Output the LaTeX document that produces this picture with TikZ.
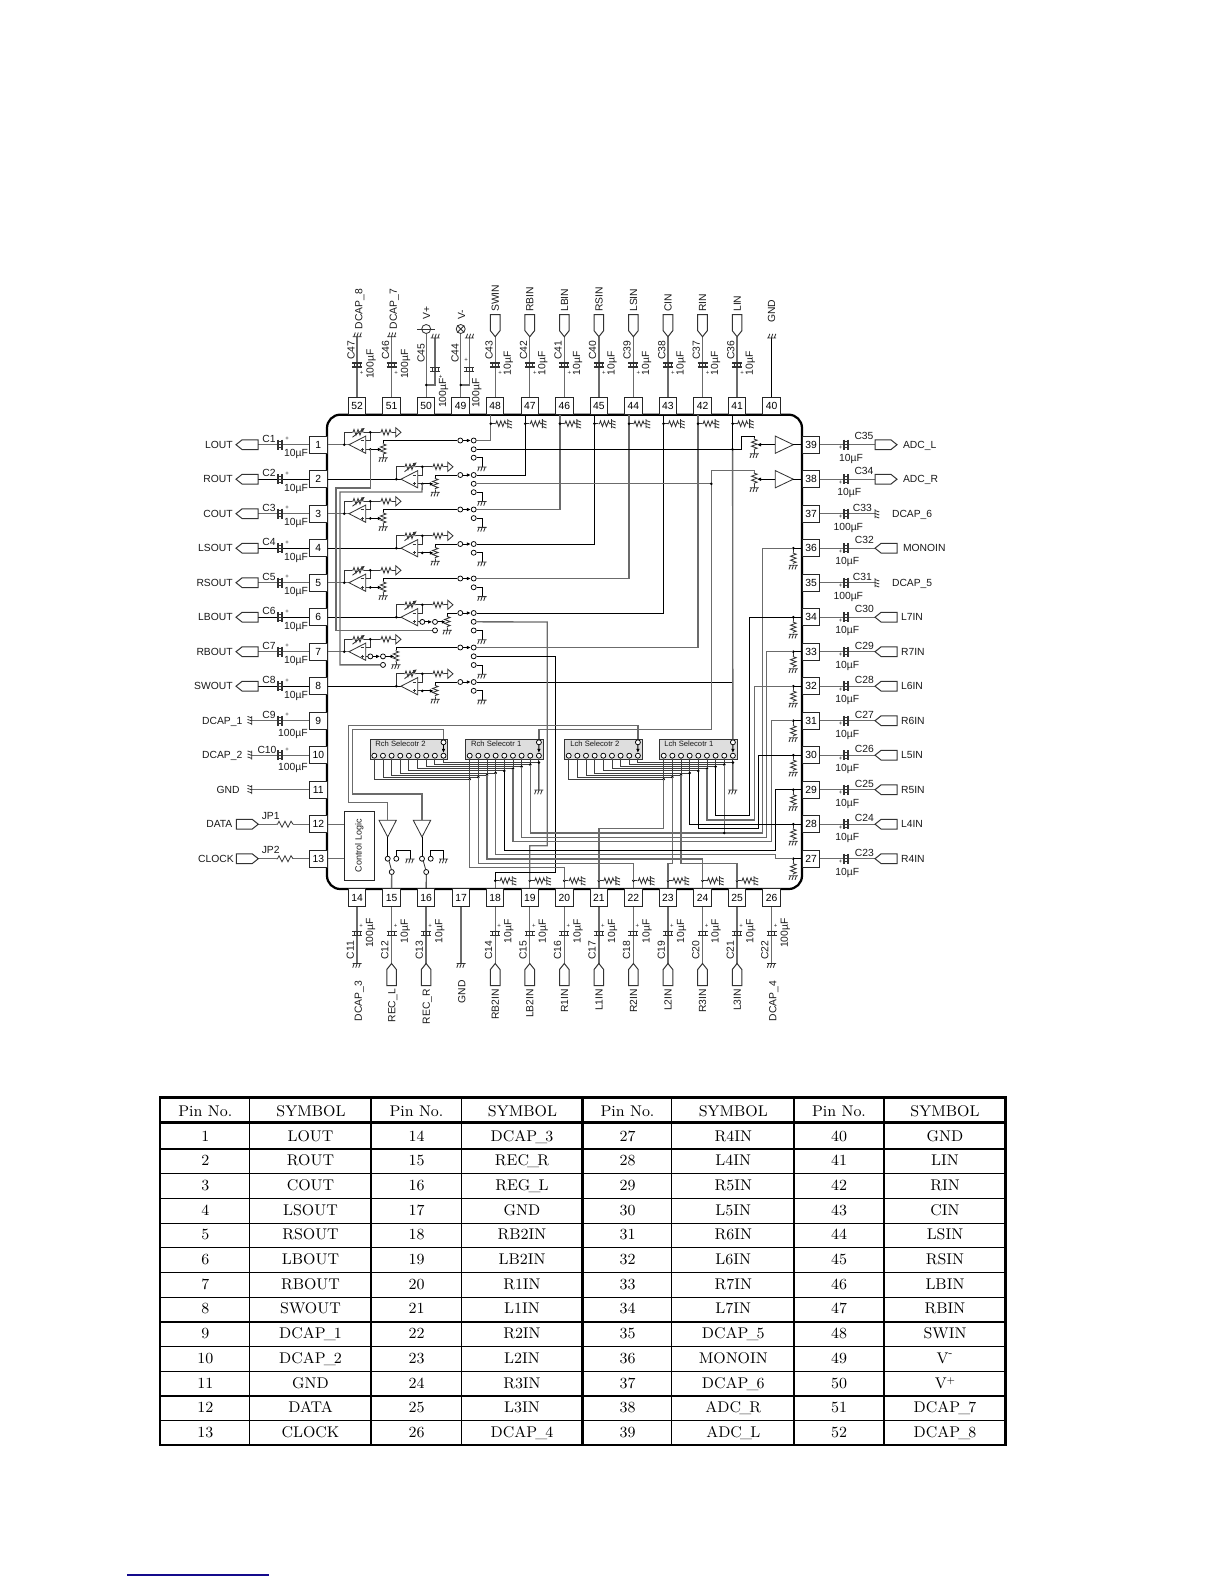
\documentclass[tikz,border=0pt]{standalone}
\usepackage{fontspec}
\newfontfamily\dgf{Liberation Sans}
\usetikzlibrary{arrows.meta}
\newcommand\us{\kern-1.1pt\_\kern-1.1pt}
\tikzset{
 wire/.style={draw=black,line width=0.5pt},
 wireg/.style={draw=black!58,line width=0.8pt},
 bus/.style={draw=black!75,line width=0.5pt},
 sym/.style={draw=black!80,line width=0.5pt},
 tip/.style={-{Latex[length=2.4pt,width=2.2pt]}},
 term/.style={circle,draw=black,line width=0.45pt,fill=white,inner sep=0pt,minimum size=3pt},
 lab/.style={font=\dgf\fontsize{6.2pt}{7pt}\selectfont,inner sep=0pt,anchor=base,text=black!90},
 pinbox/.style={draw=black!85,line width=0.55pt,fill=white,inner sep=0pt,minimum width=10.5pt,minimum height=10.4pt,font=\dgf\fontsize{6.2pt}{7pt}\selectfont},
 selbox/.style={draw=black!80,line width=0.4pt,fill=black!13,inner sep=0pt,minimum width=46.6pt,minimum height=12.4pt},
 sellab/.style={font=\dgf\fontsize{4.6pt}{5pt}\selectfont,inner sep=0pt,anchor=base west,text=black!90},
 tcell/.style={font=\fontsize{9.3pt}{11pt}\selectfont,inner sep=0pt,anchor=base},
}
\newcommand\zigz[2]{\draw[sym,shift={#1},rotate=#2] (0,0)--(1,0)--(2,-2.8)--(4,2.8)--(6,-2.8)--(8,2.8)--(10,-2.8)--(11,0)--(12,0);}
\newcommand\gnd[2]{\draw[sym,shift={#1},rotate=#2] (-4.5,0)--(4.5,0) (-2.8,0)--(-4.3,4.2) (0.2,0)--(-1.3,4.2) (3.2,0)--(1.7,4.2);}
\newcommand\capsym[2]{\draw[sym,line width=0.75pt,shift={#1},rotate=#2] (-2.1,-5)--(-2.1,5) (2.1,-5)--(2.1,5);\draw[sym,line width=0.35pt,shift={#1},rotate=#2] (-2.1,-3)--(2.1,-3) (-2.1,0)--(2.1,0) (-2.1,3)--(2.1,3);}
\newcommand\conn[2]{\draw[sym,line width=0.6pt,shift={#1},rotate=#2] (0,0)--(6,-4.8)--(22,-4.8)--(22,4.8)--(6,4.8)--cycle;}
\newcommand\jdot[1]{\fill[black] #1 circle (0.85pt);}
\begin{document}
\begin{tikzpicture}[x=0.6pt,y=-0.6pt]
\useasboundingbox (0,0) rectangle (1224,1584);
% levels
\coordinate (y815) at (0,815.7);\coordinate (y820) at (0,820);\coordinate (y829) at (0,828.7);
\coordinate (y833) at (0,833);\coordinate (y837) at (0,837.3);\coordinate (y842) at (0,841.7);
\coordinate (y850) at (0,850.3);\coordinate (y854) at (0,854.3);\coordinate (y859) at (0,859);
\coordinate (y863) at (0,863.3);\coordinate (y868) at (0,867.7);
\coordinate (x749) at (749.3,0);\coordinate (x754) at (754.3,0);\coordinate (x758) at (758.3,0);
\coordinate (x762) at (762.7,0);\coordinate (x766) at (766.7,0);\coordinate (x771) at (771.3,0);
\coordinate (x775) at (775.5,0);
% chip
\node[draw=black,line width=1.35pt,rounded corners=8pt,minimum width=285pt,minimum height=284.6pt,inner sep=0pt] (chip) at (564.5,651.85) {};
% left pins
\foreach \k/\lab/\cn/\wst in {1/LOUT/C1/wireg,2/ROUT/C2/wire,3/COUT/C3/wireg,4/LSOUT/C4/wire,5/RSOUT/C5/wireg,6/LBOUT/C6/wire,7/RBOUT/C7/wireg,8/SWOUT/C8/wire}{
 \pgfmathsetmacro\py{444.7+34.5*(\k-1)}
 \node[pinbox] (p\k) at (318.3,\py) {\k};
 \coordinate (q\k) at (258.3,\py);
 \draw[\wst] (q\k) -- (p\k);
 \conn{(236,\py)}{0}
 \capsym{(280,\py)}{0}
 \node[lab,anchor=base east] (n\k) at (233,\py+3.7) {\lab};
 \node[lab] (cn\k) at (269,\py-2.6) {\cn};
 \node[lab] (cv\k) at (296,\py+12) {10µF};
 \node[lab,font=\dgf\fontsize{3.6pt}{4pt}\selectfont] (cp\k) at (287,\py-3.8) {+};
}
\foreach \k/\lab/\cn/\cx in {9/DCAP\_1/C9/269,10/DCAP\_2/C10/267}{
 \pgfmathsetmacro\py{444.7+34.5*(\k-1)}
 \node[pinbox] (p\k) at (318.3,\py) {\k};
 \coordinate (q\k) at (251.7,\py);
 \draw[wireg] (q\k) -- (p\k);
 \gnd{(q\k)}{-90}
 \capsym{(280,\py)}{0}
 \node[lab,anchor=base east] (n\k) at (242.7,\py+3.7) {\lab};
 \node[lab] (cn\k) at (\cx,\py-2.2) {\cn};
 \node[lab] (cv\k) at (293,\py+15.7) {100µF};
 \node[lab,font=\dgf\fontsize{3.6pt}{4pt}\selectfont] (cp\k) at (287,\py-3.8) {+};
}
\node[pinbox] (p11) at (318.3,789.7) {11};
\coordinate (q11) at (251.7,789.7);
\draw[wireg] (q11) -- (p11);\gnd{(q11)}{-90}
\node[lab,anchor=base east] (n11) at (240,793.4) {GND};
\foreach \k/\lab/\rn/\tx/\wy in {12/DATA/JP1/232.7/824.2,13/CLOCK/JP2/234/858.7}{
 \node[pinbox] (p\k) at (318.3,\wy) {\k};
 \coordinate (q\k) at (258.3,\wy);\coordinate (rs\k) at (276,\wy);\coordinate (re\k) at (293,\wy);
 \draw[wireg] (q\k) -- (rs\k) (re\k) -- (p\k);
 \draw[sym,shift={(rs\k)}] (0,0)--(1.5,0)--(3,-3)--(6,3)--(9,-3)--(12,3)--(15,-3)--(17,0);
 \conn{(258.3,\wy)}{180}
 \node[lab,anchor=base east] (n\k) at (\tx,\wy+3.7) {\lab};
 \node[lab] (cn\k) at (270.7,\wy-5) {\rn};
}
% right pins
\foreach \k in {27,...,39}{
 \pgfmathsetmacro\py{444.7+34.5*(39-\k)}
 \node[pinbox] (p\k) at (811,\py) {\k};
 \coordinate (q\k) at (875,\py);
 \draw[wireg] (q\k) -- (p\k);
 \capsym{(846,\py)}{0}
 \node[lab,font=\dgf\fontsize{3.6pt}{4pt}\selectfont] (cp\k) at (840.7,\py+4.8) {+};
}
\foreach \k/\lab/\cn/\cy/\vx/\lx in {39/ADC\_L/C35/-8.5/851/902.7,38/ADC\_R/C34/-8/849.3/902.7}{
 \pgfmathsetmacro\py{444.7+34.5*(39-\k)}
 \conn{(897,\py)}{180}
 \node[lab,anchor=base west] (n\k) at (\lx,\py+3.7) {\lab};
 \node[lab] (cn\k) at (864,\py+\cy+3.7) {\cn};
 \node[lab] (cv\k) at (\vx,\py+16.4) {10µF};
}
\foreach \k/\lab/\cn/\cy/\lx in {36/MONOIN/C32/-8.2/902.7,34/L7IN/C30/-8/900.7,33/R7IN/C29/-6/900.7,32/L6IN/C28/-6.2/900.7,31/R6IN/C27/-6.4/900.7,30/L5IN/C26/-6/900.7,29/R5IN/C25/-6.4/900.7,28/L4IN/C24/-6/900.7,27/R4IN/C23/-6/900.7}{
 \pgfmathsetmacro\py{444.7+34.5*(39-\k)}
 \conn{(875,\py)}{0}
 \node[lab,anchor=base west] (n\k) at (\lx,\py+3.7) {\lab};
 \node[lab] (cn\k) at (864.3,\py+\cy+3.7) {\cn};
 \node[lab] (cv\k) at (847.3,\py+16.4) {10µF};
 \coordinate (rd\k) at (793.3,\py);
 \draw[sym] (rd\k) -- (793.3,\py+4); \zigz{(793.3,\py+4)}{-90}
 \gnd{(793.3,\py+17)}{0}
 \draw[wire] (rd\k) -- (p\k);
 \jdot{(rd\k)}
}
\foreach \k/\lab/\cn in {37/DCAP\_6/C33,35/DCAP\_5/C31}{
 \pgfmathsetmacro\py{444.7+34.5*(39-\k)}
 \gnd{(q\k)}{90}
 \node[lab,anchor=base west] (n\k) at (891.7,\py+3.7) {\lab};
 \node[lab] (cn\k) at (862.3,\py-2.3) {\cn};
 \node[lab] (cv\k) at (848.3,\py+16.4) {100µF};
}
% inner right amps
\foreach \k/\ty in {39/436.7,38/470.7}{
 \pgfmathsetmacro\py{444.7+34.5*(39-\k)}
 \coordinate (ao\k) at (793.3,\py);\coordinate (ai\k) at (775.3,\py);\coordinate (pa\k) at (754.3,\ty+1.5);
 \draw[sym,fill=white] (775.3,\py-8.6) -- (ao\k) -- (775.3,\py+8.6) -- cycle;
 \draw[wire] (ao\k) -- (p\k);
 \draw[wire,tip] (ai\k) -- (757,\py);
 \zigz{(pa\k)}{-90}
 \draw[sym] (754.3,\ty+13.5) -- (754.3,\ty+17);
 \gnd{(754.3,\ty+17)}{0}
}
% top pins
\foreach \k/\lab/\wst in {48/SWIN/wireg,47/RBIN/wire,46/LBIN/wireg,45/RSIN/wire,44/LSIN/wireg,43/CIN/wire,42/RIN/wireg,41/LIN/wire}{
 \pgfmathsetmacro\px{357+34.55*(52-\k)}
 \pgfmathtruncatemacro\cnum{\k-5}
 \node[pinbox] (p\k) at (\px,405.8) {\k};
 \coordinate (q\k) at (\px,336.7);
 \draw[wireg] (q\k) -- (p\k);
 \conn{(q\k)}{90}
 \capsym{(\px,365)}{90}
 \node[lab,rotate=90,anchor=base west] (n\k) at (\px+3.7,312) {\lab};
 \node[lab,rotate=90] (cn\k) at (\px-2.7,350) {C\cnum};
 \node[lab,rotate=90] (cv\k) at (\px+15.7,363.3) {10µF};
 \node[lab,rotate=90,font=\dgf\fontsize{3.6pt}{4pt}\selectfont] (cp\k) at (\px+7,372.7) {+};
}
\foreach \k/\lab/\cn in {52/DCAP\_8/C47,51/DCAP\_7/C46}{
 \pgfmathsetmacro\px{357+34.55*(52-\k)}
 \node[pinbox] (p\k) at (\px,405.8) {\k};
 \coordinate (q\k) at (\px,336.7);
 \draw[wireg] (q\k) -- (p\k);
 \gnd{(q\k)}{180}
 \capsym{(\px,365)}{90}
 \node[lab,rotate=90,anchor=base west] (n\k) at (\px+5.4,329.5) {\lab};
 \node[lab,rotate=90] (cn\k) at (\px-2.4,350) {\cn};
 \node[lab,rotate=90] (cv\k) at (\px+16.5,364) {100µF};
 \node[lab,rotate=90,font=\dgf\fontsize{3.6pt}{4pt}\selectfont] (cp\k) at (\px+6.5,372.7) {+};
}
% V+ V-
\node[pinbox] (p50) at (426.2,405.8) {50};
\node[pinbox] (p49) at (460.7,405.8) {49};
\node[circle,draw=black!80,line width=0.5pt,inner sep=0pt,minimum size=5.4pt] (vp) at (426.2,329) {};
\node[circle,draw=black!80,line width=0.5pt,inner sep=0pt,minimum size=5.4pt] (vm) at (460.7,329) {};
\draw[sym] (417.3,329) -- (435,329);
\draw[sym] (vm.north west) -- (vm.south east) (vm.north east) -- (vm.south west);
\draw[wireg] (vp) -- (p50);\draw[wireg] (vm) -- (p49);
\node[lab,rotate=90,anchor=base west] (n50) at (430,320) {V+};
\node[lab,rotate=90,anchor=base west] (n49) at (465,320) {V-};
\coordinate (j50) at (426.2,385);\coordinate (j49) at (460.7,385);
\coordinate (g50) at (435,338);\coordinate (g49) at (469.3,338);
\draw[wireg] (j50) -| (g50);\draw[wireg] (j49) -| (g49);
\jdot{(j50)}\jdot{(j49)}
\gnd{(g50)}{180}\gnd{(g49)}{180}
\capsym{(435,369.3)}{90}\capsym{(469.3,369.3)}{90}
\node[lab,rotate=90] (cn50) at (424.5,353) {C45};
\node[lab,rotate=90] (cn49) at (458.5,353) {C44};
\node[lab,rotate=90] (cv50) at (446,393) {100µF};
\node[lab,rotate=90] (cv49) at (479.4,393) {100µF};
\node[lab,rotate=90,font=\dgf\fontsize{3.6pt}{4pt}\selectfont] (cp50) at (442.5,376.7) {+};
\node[lab,rotate=90,font=\dgf\fontsize{3.6pt}{4pt}\selectfont] (cp49) at (468,360) {+};
% pin 40
\node[pinbox] (p40) at (771.5,405.8) {40};
\coordinate (q40) at (771.5,338);
\draw[wire] (q40) -- (p40);\gnd{(q40)}{180}
\node[lab,rotate=90,anchor=base west] (n40) at (775.2,323) {GND};
% bottom pins
\foreach \k/\lab/\cn/\vv in {15/REC\_L/C12/10,16/REC\_R/C13/10,18/RB2IN/C14/10,19/LB2IN/C15/10,20/R1IN/C16/10,21/L1IN/C17/10,22/R2IN/C18/10,23/L2IN/C19/10,24/R3IN/C20/10,25/L3IN/C21/10}{
 \pgfmathsetmacro\px{357+34.55*(\k-14)}
 \node[pinbox] (p\k) at (\px,897.6) {\k};
 \coordinate (q\k) at (\px,963.5);
 \draw[wireg] (q\k) -- (p\k);
 \conn{(q\k)}{-90}
 \capsym{(\px,933.3)}{90}
 \node[lab,rotate=90,anchor=base east] (n\k) at (\px+3.7,988.8) {\lab};
 \node[lab,rotate=90] (cn\k) at (\px-3.2,950) {\cn};
 \node[lab,rotate=90] (cv\k) at (\px+16.2,931.5) {\vv µF};
 \node[lab,rotate=90,font=\dgf\fontsize{3.6pt}{4pt}\selectfont] (cp\k) at (\px+6,926) {+};
}
\foreach \k/\lab/\cn in {14/DCAP\_3/C11,26/DCAP\_4/C22}{
 \pgfmathsetmacro\px{357+34.55*(\k-14)}
 \node[pinbox] (p\k) at (\px,897.6) {\k};
 \coordinate (q\k) at (\px,963.5);
 \draw[wireg] (q\k) -- (p\k);
 \gnd{(q\k)}{0}
 \capsym{(\px,933.3)}{90}
 \node[lab,rotate=90,anchor=base east] (n\k) at (\px+4.8,980.5) {\lab};
 \node[lab,rotate=90] (cn\k) at (\px-3.2,950) {\cn};
 \node[lab,rotate=90] (cv\k) at (\px+16.2,933) {100µF};
 \node[lab,rotate=90,font=\dgf\fontsize{3.6pt}{4pt}\selectfont] (cp\k) at (\px+6,926) {+};
}
\node[pinbox] (p17) at (461.1,897.6) {17};
\coordinate (q17) at (461.1,963.5);
\draw[wireg] (q17) -- (p17);\gnd{(q17)}{0}
\node[lab,rotate=90,anchor=base east] (n17) at (465.3,980) {GND};
% amps
\foreach \k/\dx/\potx/\wst in {1/0/383.3/wireg,2/52/435.3/wire,3/0/383.3/wireg,4/52/435.3/wire,5/0/383.3/wireg,6/52/447.3/wire,7/0/396/wireg,8/52/435.3/wire}{
 \pgfmathsetmacro\py{444.7+34.5*(\k-1)}
 \pgfmathsetmacro\sy{\py-4.2}
 \node[term] (sa\k) at (460.3,\sy) {};
 \node[term] (s\k) at (473.7,\sy) {};
 \draw[wire,tip] (sa\k) -- (s\k);
 \draw[\wst] (p\k) -- (344.3+\dx,\py) -- (349+\dx,\py);
 \coordinate (pt\k) at (\potx,\py-1.7);
 \draw[wire] (sa\k) -| (pt\k);
 \zigz{(pt\k)}{-90}
 \draw[sym] (\potx,\py+10.3) -- (\potx,\py+13);
 \gnd{(\potx,\py+13)}{0}
 \begin{scope}[shift={(\dx,\py)}]
  \draw[sym,fill=white] (349,0) -- (365.7,-8.6) -- (365.7,8.6) -- cycle;
  \draw[sym] (344.3,0) |- (352,-12.4);
  \zigz{(352,-12.4)}{0}
  \draw[sym,tip] (352.5,-7.5) -- (365,-17);
  \draw[sym] (364,-12.4) -- (380,-12.4);
  \draw[sym] (370.3,-12.4) -- (370.3,-4) -- (365.7,-4);
  \zigz{(380,-12.4)}{0}
  \draw[sym] (392,-12.4) -- (395.7,-12.4);
  \draw[sym] (395.7,-17) -- (401,-12.4) -- (395.7,-7.8) -- cycle;
  \draw[sym] (360.5,-4)--(363.5,-4) (360.5,4.7)--(363.5,4.7) (362,3.2)--(362,6.2);
  \draw[sym] (365.7,4.7) -- (370.3,4.7);
  \jdot{(344.3,0)}
  \jdot{(370.3,-12.4)}
 \end{scope}
}
\foreach \k/\dx/\potx in {1/0/383.3,2/52/435.3,3/0/383.3,4/52/435.3,5/0/383.3,8/52/435.3}{
 \pgfmathsetmacro\py{444.7+34.5*(\k-1)}
 \coordinate (ip\k) at (370.3+\dx,\py+4.7);
 \draw[wire,tip] (ip\k) -- (\potx-1.5,\py+4.7);
 \jdot{(ip\k)}
}
\foreach \k/\dx in {6/52,7/0}{
 \pgfmathsetmacro\py{444.7+34.5*(\k-1)}
 \node[term] (ka\k) at (370.3+\dx,\py+4.7) {};
 \node[term] (kb\k) at (383+\dx,\py+4.7) {};
 \node[term] (kc\k) at (383+\dx,\py+13.2) {};
 \draw[wire,tip] (ka\k) -- (kb\k);
}
\draw[wire,tip] (kb6) -- (445.8,621.9);
\draw[wire,tip] (kb7) -- (394.5,656.4);
\draw[wireg] (ip1) -- (370.3,488) -- (336,488) |- (kc6);
\draw[wireg] (ip2) -- (422,492) -- (340,492) |- (kc7);
% switch ground terminals
\foreach \k/\off in {1/13,2/13,3/4.4,4/4.5,5/4.6,6/13.3,7/13.3,8/4.6}{
 \pgfmathsetmacro\py{444.7+34.5*(\k-1)}
 \node[term] (g\k) at (473.7,\py+\off) {};
 \coordinate (gg\k) at (482,\py+\off+9.3);
 \draw[wire] (g\k) -| (gg\k);
 \gnd{(gg\k)}{0}
}
\foreach \k in {1,2,6,7}{
 \pgfmathsetmacro\py{444.7+34.5*(\k-1)}
 \node[term] (m\k) at (473.7,\py+4.6) {};
}
% selectors
\node[selbox] (rsel2) at (408.8,749.2) {};
\node[selbox] (rsel1) at (504,749.2) {};
\node[selbox] (lsel2) at (603.5,749.2) {};
\node[selbox] (lsel1) at (698.2,749.2) {};
\node[sellab] (rt2) at (375,746) {Rch Selecotr 2};
\node[sellab] (rt1) at (470.7,746) {Rch Selecotr 1};
\node[sellab] (lt2) at (570,746) {Lch Selecotr 2};
\node[sellab] (lt1) at (664,746) {Lch Selecotr 1};
\foreach \n/\bx/\ly in {rA/469.7/1,rB/374.3/1,lA/663.7/1,lB/568.7/1}{
 \foreach \i in {1,...,9}{
  \node[term] (\n\i) at (\bx+8.65*\i-8.65,755.7) {};
 }
}
\node[term] (rC1) at (538.9,742.3) {};
\node[term] (rC2) at (443.5,742.3) {};
\node[term] (lC1) at (732.9,742.3) {};
\node[term] (lC2) at (637.9,742.3) {};
\draw[wire,tip] (rC1) -- (rA9);\draw[wire,tip] (rC2) -- (rB9);
\draw[wire,tip] (lC1) -- (lA9);\draw[wire,tip] (lC2) -- (lB9);
\foreach \i in {1,...,9}{
 \pgfmathsetmacro\ly{779.3-2.1*(\i-1)}
 \pgfmathsetmacro\rxx{469.7+8.65*(\i-1)}
 \pgfmathsetmacro\lxx{663.7+8.65*(\i-1)}
 \coordinate (rD\i) at (\rxx,\ly);
 \coordinate (lD\i) at (\lxx,\ly);
 \draw[bus] (rA\i) -- (rD\i);
 \draw[bus] (lA\i) -- (lD\i);
 \draw[bus] (rB\i) |- (rD\i);
 \draw[bus] (lB\i) |- (lD\i);
 \jdot{(rD\i)}
 \jdot{(lD\i)}
}
\coordinate (rG) at (538.9,790);\coordinate (lG) at (732.9,790);
\draw[wire] (rD9) -- (rG);\draw[wire] (lD9) -- (lG);
\gnd{(rG)}{0}\gnd{(lG)}{0}
% top tap resistors and lines
\foreach \k/\wst in {48/wireg,47/wire,46/wireg,45/wire,44/wireg,43/wire,42/wireg,41/wire}{
 \pgfmathsetmacro\px{357+34.55*(52-\k)}
 \pgfmathtruncatemacro\sn{49-\k}
 \coordinate (te\k) at (\px-4.4,415);
 \coordinate (td\k) at (\px-4.4,423.7);
 \draw[\wst] (te\k) |- (s\sn);
 \draw[sym] (td\k) -- (\px-0.4,423.7);
 \zigz{(\px-0.4,423.7)}{0}
 \draw[sym] (\px+11.6,423.7) -- (\px+12.6,423.7);
 \gnd{(\px+12.6,423.7)}{90}
 \jdot{(td\k)}
}
% second lines
\coordinate (j1) at (732.6,449.3);
\draw[wire] (m1) -- (741,449.3) -- (741,436.7) -- (754.3,436.7) -- (pa39);
\draw[wireg] (j1) -- (lC1);
\jdot{(j1)}
\coordinate (j2) at (711.3,483.8);
\draw[wireg] (m2) -- (j2);
\draw[wireg] (754.3,472.2) -- (754.3,470.7) -- (711.3,470.7) -- (711.3,729.3) -- (538.9,729.3) -- (rC1);
\jdot{(j2)}
% bottom tap resistors
\foreach \k in {18,...,25}{
 \pgfmathsetmacro\px{357+34.55*(\k-14)}
 \coordinate (b\k) at (\px,880.7);
 \draw[wireg] (b\k) -- (p\k);
 \draw[sym] (b\k) -- (\px+4,880.7);
 \zigz{(\px+4,880.7)}{0}
 \draw[sym] (\px+16,880.7) -- (\px+17,880.7);
 \gnd{(\px+17,880.7)}{90}
 \jdot{(b\k)}
}
\draw[wireg] (m6) -- (547.3,622) -- (547.3,845.7) -- (b19 |- 547.3,845.7) -- (b19);
\draw[wire] (m7) -- (555.3,656.3) -- (555.3,872) -- (b18 |- 555.3,872) -- (b18);
\draw[wireg] (rD1) |- (b20 |- y868) -- (b20);
\draw[wireg] (rD2) |- (b22 |- y863) -- (b22);
\draw[wireg] (rD3) |- (b24 |- y859) -- (b24);
\draw[wireg] (lD1) |- (b21 |- y829) -- (b21);
\draw[wireg] (lD2) -- (lD2 |- y863) -- (b23 |- y863) -- (b23);
\draw[wireg] (lD3) |- (b25 |- y863) -- (b25);
\draw[wireg] (rD4) |- (x775 |- y854) -- (x775 |- rd27) -- (rd27);
\draw[wire] (rD5) |- (x775 |- y850) |- (rd29);
\draw[wireg] (rD6) |- (x771 |- y842) |- (rd31);
\draw[wireg] (rD7) |- (x766 |- y837) |- (rd33);
\draw[wireg] (rD8) |- (x762 |- y833) |- (rd36);
\draw[wireg] (lD8) -- (lD8 |- y833);
\jdot{(lD8 |- y833)}
\draw[wire] (lD4) |- (rd28);
\draw[wire] (lD5) |- (x758 |- y829) |- (rd30);
\draw[wireg] (lD6) |- (x754 |- y820) |- (rd32);
\draw[wire] (lD7) |- (x749 |- y815) |- (rd34);
% control logic
\node[draw=black!85,line width=0.5pt,inner sep=0pt,minimum width=18pt,minimum height=41.2pt] (cl) at (359.3,846) {};
\node[lab,rotate=90,font=\dgf\fontsize{5.4pt}{6pt}\selectfont,anchor=center] (cltxt) at (359.3,845.7) {Control Logic};
\draw[wireg] (p12) -- (p12 -| cl.west);
\draw[wireg] (p13) -- (p13 -| cl.west);
% buffers
\coordinate (bt1) at (387.7,820.3);\coordinate (bt2) at (422,820.3);
\coordinate (ba1) at (387.7,837);\coordinate (ba2) at (422,837);
\draw[sym,fill=white] (379,820.3) -- (396.3,820.3) -- (ba1) -- cycle;
\draw[sym,fill=white] (413.3,820.3) -- (430.7,820.3) -- (ba2) -- cycle;
\draw[wireg] (bt1) -- (387.7,802.7) -- (348.7,802.7) -- (348.7,725.7) -- (637.9,725.7) -- (lC2);
\draw[wireg] (bt2) -- (422,794) -- (352.7,794) -- (352.7,729.7) -- (443.5,729.7) -- (rC2);
\node[term] (w1a) at (387.7,858.7) {};
\node[term] (w1b) at (396.3,858.7) {};
\node[term] (w1c) at (391.7,872) {};
\node[term] (w2a) at (422,858.7) {};
\node[term] (w2b) at (430.7,858.7) {};
\node[term] (w2c) at (426.2,872) {};
\draw[wire] (ba1) -- (w1a);\draw[wire] (ba2) -- (w2a);
\draw[sym] (389,861) -- (391.5,870);
\draw[sym] (423.3,861) -- (425.8,870);
\draw[wireg] (w1c) -- (p15);\draw[wire] (w2c) -- (p16);
\draw[wire] (w1b) |- (410,850.3) -- (410,859);\gnd{(410,859)}{0}
\draw[wire] (w2b) |- (443.7,850.3) -- (443.7,859);\gnd{(443.7,859)}{0}
% table
\draw[black,line width=1.5pt] (160,1097.3) rectangle (1005.5,1445);
\draw[black,line width=1.5pt] (160,1122.7) -- (1005.5,1122.7);
\foreach \x in {371.3,582.6,793.9}{\draw[black,line width=1.4pt] (\x,1097.3) -- (\x,1445);}
\foreach \x in {249.7,461.7,671.7,884}{\draw[black,line width=0.7pt] (\x,1097.3) -- (\x,1445);}
\foreach \r in {0,...,11}{\draw[black,line width=0.7pt] (160,1149+24.7*\r) -- (1005.5,1149+24.7*\r);}
\foreach \r/\va/\vb/\vc/\vd/\ve/\vf/\vg/\vh in {
1/1/LOUT/14/DCAP\us 3/27/R4IN/40/GND,
2/2/ROUT/15/REC\us R/28/L4IN/41/LIN,
3/3/COUT/16/REG\us L/29/R5IN/42/RIN,
4/4/LSOUT/17/GND/30/L5IN/43/CIN,
5/5/RSOUT/18/RB2IN/31/R6IN/44/LSIN,
6/6/LBOUT/19/LB2IN/32/L6IN/45/RSIN,
7/7/RBOUT/20/R1IN/33/R7IN/46/LBIN,
8/8/SWOUT/21/L1IN/34/L7IN/47/RBIN,
9/9/DCAP\us 1/22/R2IN/35/DCAP\us 5/48/SWIN,
10/10/DCAP\us 2/23/L2IN/36/MONOIN/49/V\textsuperscript{-},
11/11/GND/24/R3IN/37/DCAP\us 6/50/V\raisebox{3pt}{\fontsize{5.5pt}{6pt}\selectfont +},
12/12/DATA/25/L3IN/38/ADC\us R/51/DCAP\us 7,
13/13/CLOCK/26/DCAP\us 4/39/ADC\us L/52/DCAP\us 8}{
 \pgfmathsetmacro\ty{1141+24.7*(\r-1)}
 \node[tcell] (ta\r) at (205.3,\ty) {\va};
 \node[tcell] (tb\r) at (310.5,\ty) {\vb};
 \node[tcell] (tc\r) at (416.5,\ty) {\vc};
 \node[tcell] (td\r) at (522,\ty) {\vd};
 \node[tcell] (te\r) at (627.5,\ty) {\ve};
 \node[tcell] (tf\r) at (733.3,\ty) {\vf};
 \node[tcell] (tg\r) at (839,\ty) {\vg};
 \node[tcell] (th\r) at (945,\ty) {\vh};
}
\foreach \c/\x/\t in {a/205.3/Pin No.,b/311/SYMBOL,c/416.5/Pin No.,d/522.5/SYMBOL,e/627.5/Pin No.,f/733.3/SYMBOL,g/839/Pin No.,h/945/SYMBOL}{
 \node[tcell] (th\c) at (\x,1116) {\t};
}
\draw[color={rgb,255:red,20;green,10;blue,140},line width=0.75pt] (127,1575) -- (269,1575);
\end{tikzpicture}
\end{document}
